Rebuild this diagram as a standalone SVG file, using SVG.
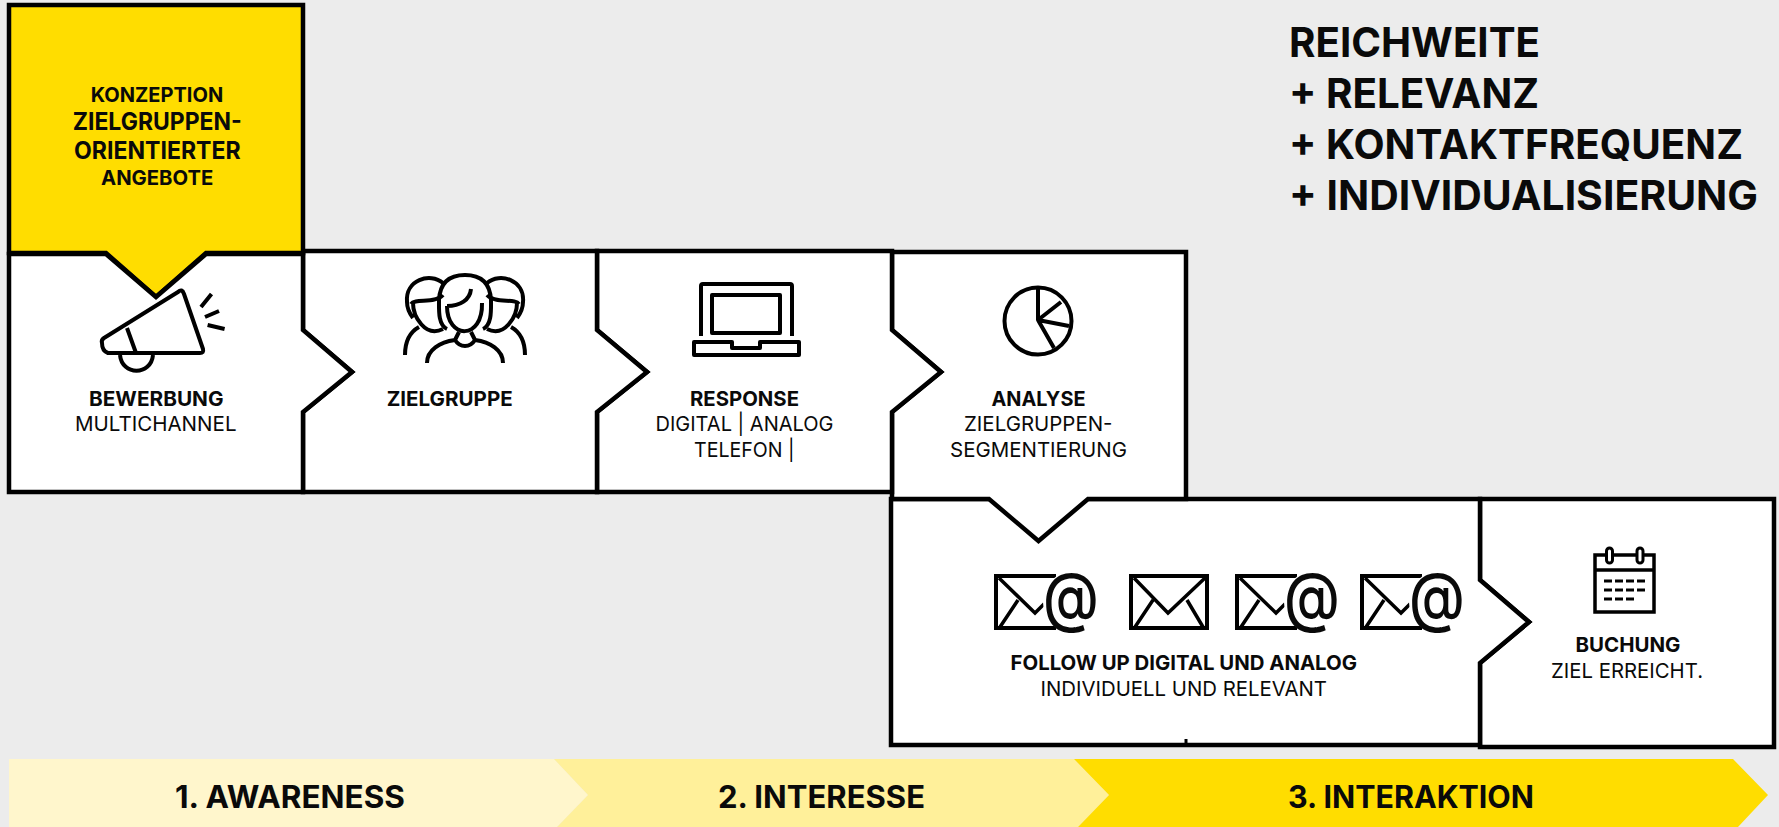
<svg xmlns="http://www.w3.org/2000/svg" width="1779" height="827" viewBox="0 0 1779 827">
<style>
text{font-family:"Inter","Roboto","Liberation Sans",sans-serif;fill:#0a0a0a}
.b{font-weight:700;font-size:20.500px}
.r{font-weight:400;font-size:20.500px}
.h{font-weight:700;font-size:41px}
.s{font-weight:700;font-size:31px}
.y{font-weight:700;font-size:24px}
.at{font-weight:500;font-size:66px;text-anchor:middle}
.box{fill:#fff;stroke:#000;stroke-width:4.500}
.ic{fill:none;stroke:#000;stroke-width:4;stroke-linejoin:round}
.ic3{fill:none;stroke:#000;stroke-width:3}
</style>
<defs>
<g id="env"><rect x="2" y="2" width="76" height="52" fill="#fff" stroke="#000" stroke-width="4"/><path d="M5,4L39,39L76,4M6,53L24,26M74,53L58,26" fill="none" stroke="#000" stroke-width="3.500"/></g>
<g id="envat"><path d="M62,2H2V54H62" fill="#fff" stroke="#000" stroke-width="4"/><path d="M5,4L41,39L62,18M6,53L24,26" fill="none" stroke="#000" stroke-width="3.500"/><ellipse cx="77" cy="28" rx="28" ry="30" fill="#fff"/><text class="at" transform="translate(77,46) scale(0.86,1)">@</text></g>
</defs>
<rect width="1779" height="827" fill="#ececec"/>
<g id="phases">
<polygon points="9,759 554,759 588,795 557,827 9,827" fill="#fff6cc"/>
<polygon points="554,759 1074,759 1109,795 1078,827 557,827 588,795" fill="#fff09a"/>
<polygon points="1074,759 1733,759 1768,795 1738,827 1078,827 1109,795" fill="#ffdd00"/>
<text class="s" x="175" y="808" textLength="230" lengthAdjust="spacingAndGlyphs">1. AWARENESS</text>
<text class="s" x="718" y="808" textLength="207" lengthAdjust="spacingAndGlyphs">2. INTERESSE</text>
<text class="s" x="1288" y="808" textLength="246" lengthAdjust="spacingAndGlyphs">3. INTERAKTION</text>
</g>
<g id="n-buchung">
<path class="box" d="M1480,499H1774V747H1480V663L1529,622L1480,580Z"/>
<g class="ic3"><rect x="1595" y="555" width="59" height="57" stroke-width="3.500"/><path d="M1595,570H1654" stroke-width="3.500"/><rect x="1606.500" y="548" width="6" height="15" rx="3" fill="#fff"/><rect x="1637" y="548" width="6" height="15" rx="3" fill="#fff"/>
<path d="M1604,581H1647M1604,590H1647M1604,599H1634" stroke-dasharray="8 3"/></g>
<text class="b" x="1575.500" y="651.500" textLength="105" lengthAdjust="spacingAndGlyphs">BUCHUNG</text>
<text class="r" x="1551" y="677.500" textLength="152" lengthAdjust="spacingAndGlyphs">ZIEL ERREICHT.</text>
</g>
<g id="n-followup">
<path class="box" d="M891,499H1480V580L1529,622L1480,663V745H891Z"/>
<use href="#envat" x="994" y="574"/>
<use href="#env" x="1129" y="574"/>
<use href="#envat" x="1235" y="574"/>
<use href="#envat" x="1360" y="574"/>
<text class="b" x="1010.500" y="670" textLength="346.500" lengthAdjust="spacingAndGlyphs">FOLLOW UP DIGITAL UND ANALOG</text>
<text class="r" x="1040.500" y="695.500" textLength="286.500" lengthAdjust="spacingAndGlyphs">INDIVIDUELL UND RELEVANT</text>
<path d="M1186,739V745" stroke="#000" stroke-width="3"/>
</g>
<g id="n-analyse">
<path class="box" d="M892,252H1186V499H1088L1038.500,541L989,499H892V412L941,372L892,330Z"/>
<g class="ic"><circle cx="1038" cy="321" r="33.500"/><path d="M1038,287V320L1061,302M1038,320L1069,326M1038,320L1054,348"/></g>
<text class="b" x="991.500" y="405.500" textLength="94" lengthAdjust="spacingAndGlyphs">ANALYSE</text>
<text class="r" x="964" y="431" textLength="148.500" lengthAdjust="spacingAndGlyphs">ZIELGRUPPEN-</text>
<text class="r" x="950" y="457" textLength="177" lengthAdjust="spacingAndGlyphs">SEGMENTIERUNG</text>
</g>
<g id="n-response">
<path class="box" d="M597,251H892V330L941,372L892,412V492H597V412L647,372L597,330Z"/>
<g class="ic"><path d="M701,336V286Q701,284 703,284H790Q792,284 792,286V336"/><rect x="712" y="295" width="68" height="38"/><path d="M694,342H732V348H760V342H799V355H694Z"/></g>
<text class="b" x="690" y="405.500" textLength="109" lengthAdjust="spacingAndGlyphs">RESPONSE</text>
<text class="r" x="655.500" y="431" textLength="178" lengthAdjust="spacingAndGlyphs">DIGITAL | ANALOG</text>
<text class="r" x="694" y="457" textLength="100.500" lengthAdjust="spacingAndGlyphs">TELEFON |</text>
</g>
<g id="n-zielgruppe">
<path class="box" d="M303,251H597V330L647,372L597,412V492H303V412L352,372L303,330Z"/>
<g class="ic" id="people">
<path d="M447,306C447,340 483,340 482,303M447,306C460,306 470,300 471,289"/>
<path d="M447,329C438,325 439,310 439,300C440,282 450,275 465,275C480,275 490,282 491,300C491,310 492,325 483,329"/>
<path d="M459,332L455,340M471,332L475,340M427,363C427,350 440,342 455,340C460,348 470,348 475,340C490,342 503,350 503,363"/>
<path d="M443,283C430,272 405,280 407,302C407,308 410,314 413,318M413,303C413,316 425,338 443,329M411,304C415,298 435,304 443,295M405,355C405,342 410,332 419,327"/>
<path d="M487,283C500,272 525,280 523,302C523,308 520,314 517,318M517,303C517,316 505,338 487,329M519,304C515,298 495,304 487,295M525,355C525,342 520,332 511,327"/>
</g>
<text class="b" x="386.700" y="405.500" textLength="126" lengthAdjust="spacingAndGlyphs">ZIELGRUPPE</text>
</g>
<g id="n-konzeption">
<path d="M9,5H303V253H206L156,297L106,253H9Z" fill="#ffdd00" stroke="#000" stroke-width="4.500"/>
<text class="b" x="90.700" y="101.500" textLength="132.500" lengthAdjust="spacingAndGlyphs">KONZEPTION</text>
<text class="y" x="72.700" y="130" textLength="169" lengthAdjust="spacingAndGlyphs">ZIELGRUPPEN-</text>
<text class="y" x="74" y="159" textLength="166.700" lengthAdjust="spacingAndGlyphs">ORIENTIERTER</text>
<text class="b" x="101" y="185" textLength="112.300" lengthAdjust="spacingAndGlyphs">ANGEBOTE</text>
</g>
<g id="n-bewerbung">
<path class="box" d="M9,254H106L156,297L206,254H303V330L352,372L303,412V492H9Z"/>
<g class="ic"><path d="M178,292Q182,288 184,294L203,349Q204,353 200,353H108Q102,351 102,343Q101,340 104,338Z"/><path d="M127,328L136,353M120,355C122,376 151,376 153,355M211.500,294L201,307M219,311L205,317M224.600,329L207.600,325"/></g>
<text class="b" x="89" y="405.500" textLength="134.500" lengthAdjust="spacingAndGlyphs">BEWERBUNG</text>
<text class="r" x="75" y="430.500" textLength="161.500" lengthAdjust="spacingAndGlyphs">MULTICHANNEL</text>
</g>
<g id="title">
<text class="h" x="1289" y="57" textLength="251" lengthAdjust="spacingAndGlyphs">REICHWEITE</text>
<text class="h" x="1289" y="107.500" textLength="250" lengthAdjust="spacingAndGlyphs">+ RELEVANZ</text>
<text class="h" x="1289" y="158.500" textLength="454" lengthAdjust="spacingAndGlyphs">+ KONTAKTFREQUENZ</text>
<text class="h" x="1289" y="209.500" textLength="469" lengthAdjust="spacingAndGlyphs">+ INDIVIDUALISIERUNG</text>
</g>
<g id="connectors"/>
</svg>
